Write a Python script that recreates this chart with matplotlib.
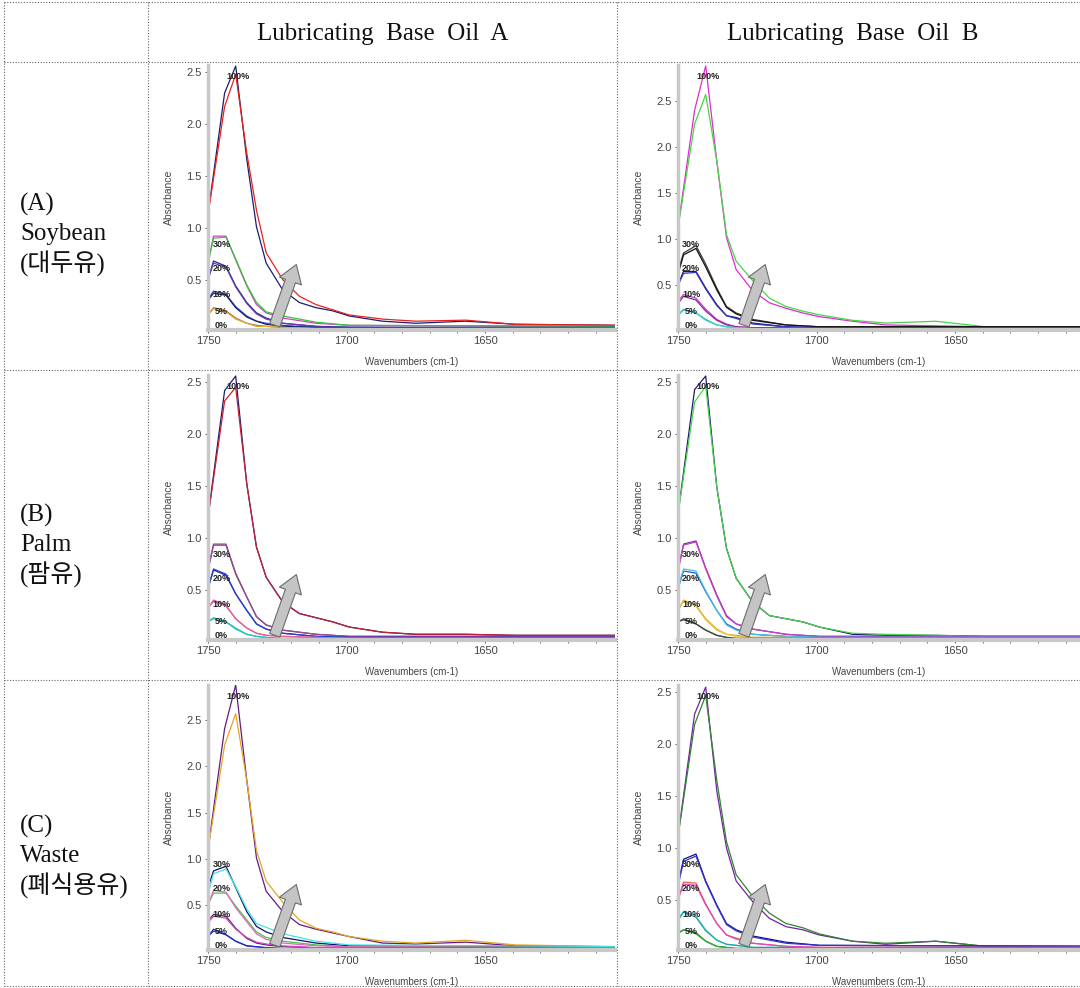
import matplotlib.pyplot as plt
from matplotlib.lines import Line2D
from matplotlib.ticker import MultipleLocator, FormatStrFormatter

# wavenumber grids (cm-1) used by the curves
WN_HIGH = [1750, 1744, 1740, 1736, 1732.5, 1729, 1723, 1717, 1711, 1705, 1699, 1687, 1675, 1657, 1639, 1600]
WN_LOW = [1750, 1748, 1743.5, 1740, 1736, 1732.5, 1729, 1723, 1711, 1699, 1600]
WN_ZERO = [1750, 1600]

LEVELS = ['100%', '30%', '20%', '10%', '5%', '0%']
COL_TITLES = ['Lubricating  Base  Oil  A', 'Lubricating  Base  Oil  B']
ROW_TITLES = [['(A)', 'Soybean', '(대두유)'], ['(B)', 'Palm', '(팜유)'], ['(C)', 'Waste', '(폐식용유)']]

# ---- soybean / base oil A
soy_a_100 = [[1.13, 2.30, 2.56, 1.66, 1.01, 0.66, 0.40, 0.28, 0.23, 0.20, 0.15, 0.10, 0.08, 0.10, 0.07, 0.06],
             [1.13, 2.17, 2.48, 1.72, 1.17, 0.76, 0.50, 0.34, 0.26, 0.21, 0.16, 0.12, 0.10, 0.11, 0.07, 0.06]]
soy_a_30 = [[0.66, 0.92, 0.92, 0.69, 0.44, 0.26, 0.18, 0.13, 0.08, 0.06, 0.05],
            [0.66, 0.90, 0.91, 0.70, 0.45, 0.28, 0.19, 0.15, 0.09, 0.06, 0.05]]
soy_a_20 = [[0.50, 0.68, 0.63, 0.44, 0.28, 0.18, 0.13, 0.08, 0.05, 0.04, 0.04],
            [0.50, 0.66, 0.62, 0.43, 0.27, 0.17, 0.12, 0.08, 0.05, 0.04, 0.04]]
soy_a_10 = [[0.31, 0.39, 0.36, 0.24, 0.15, 0.10, 0.08, 0.06, 0.04, 0.04, 0.03],
            [0.30, 0.37, 0.35, 0.23, 0.14, 0.10, 0.07, 0.05, 0.04, 0.04, 0.03]]
soy_a_5 = [[0.16, 0.23, 0.20, 0.13, 0.08, 0.06, 0.05, 0.04, 0.03, 0.03, 0.03],
           [0.16, 0.22, 0.19, 0.12, 0.08, 0.05, 0.05, 0.04, 0.03, 0.03, 0.03]]

# ---- soybean / base oil B
soy_b_100 = [[1.13, 2.40, 2.88, 1.85, 1.02, 0.67, 0.44, 0.31, 0.25, 0.20, 0.16, 0.11, 0.07, 0.06, 0.05, 0.05],
             [1.13, 2.25, 2.57, 1.85, 1.05, 0.76, 0.55, 0.36, 0.27, 0.22, 0.18, 0.12, 0.09, 0.11, 0.05, 0.05]]
soy_b_30 = [[0.65, 0.85, 0.93, 0.73, 0.47, 0.27, 0.20, 0.13, 0.07, 0.05, 0.05],
            [0.62, 0.83, 0.90, 0.70, 0.45, 0.26, 0.19, 0.12, 0.07, 0.05, 0.05]]
soy_b_20 = [[0.51, 0.65, 0.65, 0.47, 0.29, 0.17, 0.15, 0.09, 0.05, 0.04, 0.04],
            [0.50, 0.63, 0.64, 0.46, 0.28, 0.17, 0.14, 0.08, 0.05, 0.04, 0.04]]
soy_b_10 = [[0.33, 0.40, 0.36, 0.24, 0.13, 0.08, 0.05, 0.04, 0.04, 0.03, 0.03],
            [0.30, 0.38, 0.34, 0.22, 0.12, 0.07, 0.05, 0.04, 0.04, 0.03, 0.03]]
soy_b_5 = [[0.18, 0.24, 0.20, 0.13, 0.07, 0.05, 0.04, 0.03, 0.03, 0.03, 0.03],
           [0.17, 0.23, 0.20, 0.12, 0.07, 0.05, 0.04, 0.03, 0.03, 0.03, 0.03]]

# ---- palm / base oil A
palm_a_100 = [[1.20, 2.42, 2.56, 1.52, 0.91, 0.62, 0.38, 0.27, 0.23, 0.19, 0.14, 0.09, 0.07, 0.07, 0.06, 0.06],
              [1.20, 2.32, 2.45, 1.52, 0.91, 0.62, 0.38, 0.27, 0.23, 0.19, 0.14, 0.09, 0.07, 0.07, 0.06, 0.06]]
palm_a_30 = [[0.69, 0.93, 0.93, 0.65, 0.43, 0.24, 0.16, 0.11, 0.07, 0.05, 0.05],
             [0.69, 0.94, 0.94, 0.66, 0.43, 0.24, 0.16, 0.11, 0.07, 0.05, 0.05]]
palm_a_20 = [[0.51, 0.69, 0.64, 0.46, 0.30, 0.17, 0.12, 0.08, 0.05, 0.04, 0.04],
             [0.52, 0.70, 0.65, 0.46, 0.30, 0.17, 0.12, 0.08, 0.05, 0.04, 0.04]]
palm_a_10 = [[0.32, 0.40, 0.35, 0.22, 0.13, 0.08, 0.06, 0.05, 0.04, 0.03, 0.03],
             [0.32, 0.39, 0.34, 0.22, 0.13, 0.08, 0.06, 0.05, 0.04, 0.03, 0.03]]
palm_a_5 = [[0.19, 0.23, 0.19, 0.13, 0.07, 0.05, 0.04, 0.03, 0.03, 0.03, 0.03],
            [0.19, 0.22, 0.19, 0.12, 0.07, 0.05, 0.04, 0.03, 0.03, 0.03, 0.03]]

# ---- palm / base oil B
palm_b_100 = [[1.23, 2.43, 2.56, 1.49, 0.90, 0.61, 0.38, 0.25, 0.22, 0.19, 0.14, 0.07, 0.06, 0.06, 0.05, 0.05],
              [1.23, 2.31, 2.46, 1.49, 0.90, 0.61, 0.38, 0.25, 0.22, 0.19, 0.14, 0.08, 0.07, 0.06, 0.05, 0.05]]
palm_b_30 = [[0.69, 0.94, 0.97, 0.71, 0.45, 0.25, 0.17, 0.12, 0.07, 0.05, 0.05],
             [0.68, 0.93, 0.96, 0.70, 0.44, 0.24, 0.17, 0.12, 0.07, 0.05, 0.05]]
palm_b_20 = [[0.51, 0.68, 0.66, 0.48, 0.30, 0.17, 0.12, 0.07, 0.05, 0.04, 0.04],
             [0.52, 0.70, 0.68, 0.49, 0.30, 0.16, 0.11, 0.07, 0.05, 0.04, 0.04]]
palm_b_10 = [[0.30, 0.40, 0.35, 0.22, 0.12, 0.07, 0.06, 0.04, 0.04, 0.03, 0.03],
             [0.30, 0.39, 0.34, 0.21, 0.11, 0.07, 0.05, 0.04, 0.04, 0.03, 0.03]]
palm_b_5 = [[0.19, 0.22, 0.17, 0.11, 0.06, 0.04, 0.03, 0.03, 0.03, 0.03, 0.03],
            [0.19, 0.21, 0.17, 0.11, 0.06, 0.04, 0.03, 0.03, 0.03, 0.03, 0.03]]

# ---- waste / base oil A
waste_a_100 = [[1.10, 2.41, 2.88, 1.85, 1.01, 0.65, 0.43, 0.29, 0.24, 0.20, 0.16, 0.09, 0.08, 0.10, 0.06, 0.05],
               [1.10, 2.23, 2.57, 1.85, 1.09, 0.76, 0.53, 0.34, 0.25, 0.21, 0.16, 0.11, 0.09, 0.12, 0.07, 0.05]]
waste_a_30 = [[0.69, 0.87, 0.92, 0.69, 0.43, 0.27, 0.21, 0.15, 0.09, 0.06, 0.05],
              [0.62, 0.84, 0.89, 0.70, 0.46, 0.30, 0.26, 0.19, 0.11, 0.07, 0.05]]
waste_a_20 = [[0.51, 0.63, 0.63, 0.49, 0.34, 0.21, 0.15, 0.11, 0.07, 0.05, 0.04],
              [0.50, 0.66, 0.64, 0.47, 0.32, 0.19, 0.13, 0.09, 0.06, 0.05, 0.04]]
waste_a_10 = [[0.33, 0.40, 0.38, 0.25, 0.14, 0.09, 0.07, 0.05, 0.04, 0.04, 0.03],
              [0.31, 0.38, 0.36, 0.24, 0.15, 0.10, 0.08, 0.06, 0.04, 0.04, 0.03]]
waste_a_5 = [[0.16, 0.24, 0.18, 0.11, 0.06, 0.05, 0.04, 0.03, 0.03, 0.03, 0.03],
             [0.16, 0.22, 0.18, 0.11, 0.06, 0.05, 0.04, 0.03, 0.03, 0.03, 0.03]]

# ---- waste / base oil B
waste_b_100 = [[1.11, 2.29, 2.55, 1.55, 1.00, 0.68, 0.48, 0.32, 0.24, 0.21, 0.16, 0.10, 0.07, 0.10, 0.05, 0.05],
               [1.11, 2.19, 2.47, 1.65, 1.06, 0.74, 0.53, 0.37, 0.27, 0.23, 0.17, 0.10, 0.08, 0.10, 0.05, 0.05]]
waste_b_30 = [[0.65, 0.89, 0.94, 0.68, 0.45, 0.27, 0.21, 0.15, 0.09, 0.06, 0.05],
              [0.63, 0.87, 0.92, 0.67, 0.44, 0.26, 0.20, 0.14, 0.08, 0.06, 0.05]]
waste_b_20 = [[0.50, 0.67, 0.66, 0.46, 0.27, 0.16, 0.13, 0.08, 0.05, 0.04, 0.04],
              [0.50, 0.65, 0.64, 0.45, 0.27, 0.16, 0.12, 0.08, 0.05, 0.04, 0.04]]
waste_b_10 = [[0.31, 0.39, 0.34, 0.21, 0.11, 0.07, 0.06, 0.04, 0.04, 0.03, 0.03],
              [0.30, 0.38, 0.33, 0.20, 0.11, 0.07, 0.06, 0.04, 0.04, 0.03, 0.03]]
waste_b_5 = [[0.18, 0.21, 0.18, 0.10, 0.05, 0.04, 0.03, 0.03, 0.03, 0.03, 0.03],
             [0.17, 0.21, 0.17, 0.10, 0.05, 0.04, 0.03, 0.03, 0.03, 0.03, 0.03]]

zero_level = [0.025, 0.025]

# line colours per panel, per level (two replicates each), then 0%
soy_a_colors = [('#1c1c70', '#e8231c'), ('#d63cc8', '#34c634'), ('#22229a', '#6a3fa6'),
                ('#2f4fc4', '#1c1c70'), ('#c4622a', '#d8b030'), '#2a8a2a']
soy_b_colors = [('#e02ad2', '#48d448'), ('#3c3c3c', '#111111'), ('#101080', '#3434c8'),
                ('#d232c2', '#8a2aa6'), ('#20b0a0', '#44d4d4'), '#f08888']
palm_a_colors = [('#1c1c70', '#c42234'), ('#256225', '#a442a4'), ('#1c1c90', '#2a44d0'),
                 ('#e444d2', '#e66488'), ('#22c2c2', '#22c2c2'), '#44c444']
palm_b_colors = [('#1c1c70', '#48d448'), ('#8222a2', '#c442c2'), ('#2654d4', '#44c2e4'),
                 ('#e4a424', '#e4c444'), ('#227222', '#444444'), '#e46464']
waste_a_colors = [('#641a84', '#e4a424'), ('#10106a', '#44e2e2'), ('#44c444', '#e464c4'),
                  ('#542264', '#d444c4'), ('#1034a4', '#2a2ad0'), '#c42244']
waste_b_colors = [('#7222a2', '#328432'), ('#101080', '#3434d4'), ('#e46444', '#e444c4'),
                  ('#44d4d4', '#22a4a4'), ('#125412', '#34b434'), '#d43454']

PANELS = [
    ([soy_a_100, soy_a_30, soy_a_20, soy_a_10, soy_a_5], soy_a_colors, 2.57),
    ([soy_b_100, soy_b_30, soy_b_20, soy_b_10, soy_b_5], soy_b_colors, 2.89),
    ([palm_a_100, palm_a_30, palm_a_20, palm_a_10, palm_a_5], palm_a_colors, 2.57),
    ([palm_b_100, palm_b_30, palm_b_20, palm_b_10, palm_b_5], palm_b_colors, 2.57),
    ([waste_a_100, waste_a_30, waste_a_20, waste_a_10, waste_a_5], waste_a_colors, 2.88),
    ([waste_b_100, waste_b_30, waste_b_20, waste_b_10, waste_b_5], waste_b_colors, 2.57),
]

W, H = 1080, 988
PX_PER_WN = 2.77
fig = plt.figure(figsize=(W / 100, H / 100), dpi=100)
fig.patch.set_facecolor('white')


def box(l, t, w, h):
    return [l / W, 1 - (t + h) / H, w / W, h / H]


def fx(x):
    return x / W


def fy(y):
    return 1 - y / H


# table grid (dotted)
grid_kw = dict(color='#666666', lw=0.8, ls=(0, (1, 1.5)), transform=fig.transFigure)
for y in [2, 62, 370, 680, 986]:
    fig.add_artist(Line2D([fx(4), fx(1080)], [fy(y), fy(y)], **grid_kw))
for x in [4, 148, 617]:
    fig.add_artist(Line2D([fx(x), fx(x)], [fy(2), fy(986)], **grid_kw))

# column headers
for i, t in enumerate(COL_TITLES):
    cx = [383, 853][i]
    fig.text(fx(cx), fy(34), t, ha='center', va='center', fontsize=18,
             family=['Liberation Serif', 'DejaVu Serif'], color='#111111')

# row headers
row_tops = [204, 515, 826]
for r, lines in enumerate(ROW_TITLES):
    for k, t in enumerate(lines):
        fig.text(fx(20), fy(row_tops[r] + 30 * k), t, ha='left', va='center', fontsize=18,
                 family=['Liberation Serif', 'Noto Sans CJK KR'], color='#111111')

label_pos = [(0.074, 0.956), (0.033, 0.321), (0.033, 0.231), (0.033, 0.134), (0.033, 0.069), (0.033, 0.016)]
axis_font = ['Liberation Sans', 'DejaVu Sans']

for p, (levels, colors, ytop) in enumerate(PANELS):
    r, c = divmod(p, 2)
    left = [208, 678][c]
    width = [407, 402][c]
    top = [65, 375, 685][r]
    ax = fig.add_axes(box(left, top, width, 265))

    for k, reps in enumerate(levels):
        wn = WN_HIGH if k == 0 else WN_LOW
        for rep, col in zip(reps, colors[k]):
            ax.plot(wn, rep, color=col, lw=0.9)
    ax.plot(WN_ZERO, zero_level, color=colors[5], lw=1.2)

    ax.set_xlim(1750, 1750 - width / PX_PER_WN)
    ax.set_ylim(0.015, ytop)
    ax.set_xticks([1750, 1700, 1650])
    ax.xaxis.set_minor_locator(MultipleLocator(10))
    ax.set_yticks([0.5, 1.0, 1.5, 2.0, 2.5])
    ax.yaxis.set_major_formatter(FormatStrFormatter('%.1f'))
    ax.tick_params(axis='both', which='major', labelsize=8, colors='#444444', length=2.5, width=0.6, pad=2)
    ax.tick_params(axis='x', which='minor', length=2, width=0.6, colors='#666666')
    for lab in ax.get_xticklabels() + ax.get_yticklabels():
        lab.set_family(axis_font)
    for s in ['top', 'right']:
        ax.spines[s].set_visible(False)
    ax.spines['left'].set_color('#c8c8c8')
    ax.spines['left'].set_linewidth(2.5)
    ax.spines['bottom'].set_color('#c8c8c8')
    ax.spines['bottom'].set_linewidth(3)
    ax.set_ylabel('Absorbance', fontsize=7.5, color='#444444', family=axis_font, labelpad=9)
    ax.set_xlabel('Wavenumbers (cm-1)', fontsize=7, color='#444444', family=axis_font, labelpad=8)

    for lab, (lx, ly) in zip(LEVELS, label_pos):
        ax.text(lx, ly, lab, transform=ax.transAxes, ha='center', va='center',
                fontsize=6.5, fontweight='bold', color='#222222', family=axis_font)

    ax.annotate('', xy=(0.217, 0.247), xytext=(0.164, 0.018), xycoords='axes fraction',
                arrowprops=dict(arrowstyle='simple,head_length=0.9,head_width=1.2,tail_width=0.55',
                                fc='#c4c4c4', ec='#6c6c6c', lw=0.8, mutation_scale=14,
                                shrinkA=0, shrinkB=0))

fig.savefig('out.png', dpi=100, facecolor='white')
